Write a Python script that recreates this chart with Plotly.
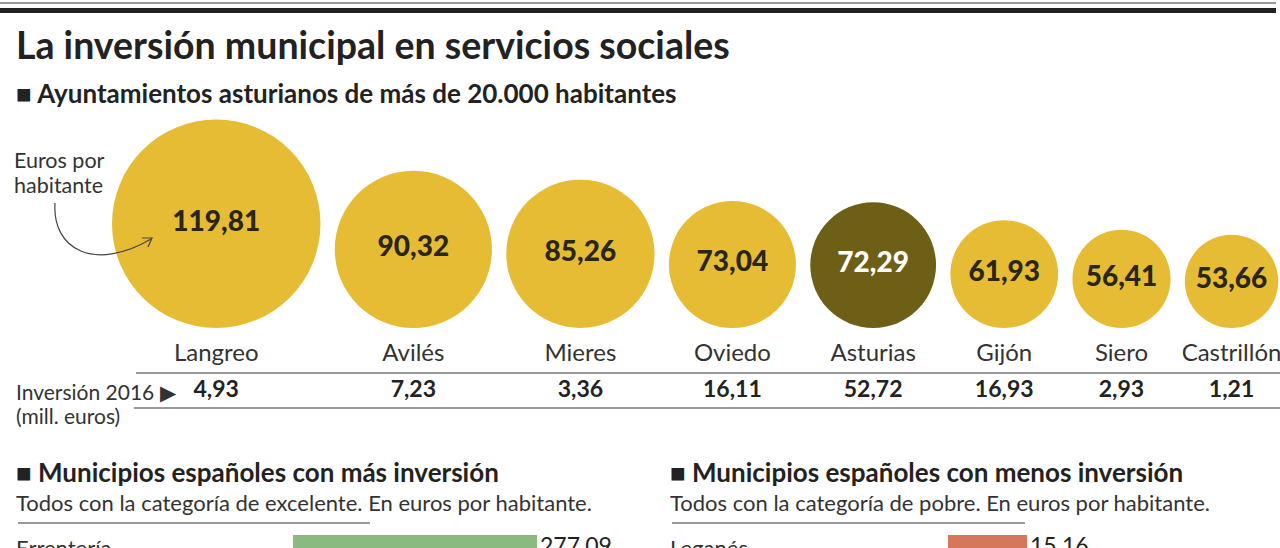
import plotly.graph_objects as go

# ---------------- data ----------------
municipios = ["Langreo", "Avilés", "Mieres", "Oviedo", "Asturias", "Gijón", "Siero", "Castrillón"]
euros_hab = [119.81, 90.32, 85.26, 73.04, 72.29, 61.93, 56.41, 53.66]
inversion_2016 = [4.93, 7.23, 3.36, 16.11, 52.72, 16.93, 2.93, 1.21]

mas_cat = ["Errentería"]
mas_val = [277.09]
menos_cat = ["Leganés"]
menos_val = [15.16]

# ---------------- style ----------------
W, H = 1280, 548
COND = "Lato, Roboto, sans-serif"
NUM = "Lato, Roboto, sans-serif"
YEL = "#E6BC35"
OLIVE = "#6D6016"
DARK = "#222222"
TXT = "#333333"


def es(v):
    return f"{v:.2f}".replace(".", ",")


# bubble geometry: radius proportional to value, packed left to right
px_per_unit = 0.87
gap = 14.3
x_left = 112
bottom = 328
xs, ys, sizes = [], [], []
cur = x_left
for v in euros_hab:
    r = v * px_per_unit
    xs.append(cur + r)
    ys.append(bottom - r)
    sizes.append(2 * r)
    cur += 2 * r + gap

colors = [OLIVE if m == "Asturias" else YEL for m in municipios]
txtcolors = ["white" if m == "Asturias" else "#2a2614" for m in municipios]

fig = go.Figure()

fig.add_trace(go.Scatter(
    x=xs, y=ys, mode="markers+text",
    marker=dict(size=sizes, color=colors, line=dict(width=0), opacity=1),
    text=[es(v) for v in euros_hab], textposition="middle center",
    textfont=dict(family=NUM, size=28, color=txtcolors, weight=900),
    cliponaxis=False, hoverinfo="skip", showlegend=False,
    xaxis="x", yaxis="y",
))

# names row
fig.add_trace(go.Scatter(
    x=xs, y=[355] * len(xs), mode="text", text=municipios,
    textfont=dict(family=COND, size=24, color=TXT),
    cliponaxis=False, hoverinfo="skip", showlegend=False,
))
# inversion row
fig.add_trace(go.Scatter(
    x=xs, y=[391] * len(xs), mode="text", text=[es(v) for v in inversion_2016],
    textfont=dict(family=COND, size=23, color=DARK, weight="bold"),
    cliponaxis=False, hoverinfo="skip", showlegend=False,
))

# bottom bars
fig.add_trace(go.Bar(
    y=mas_cat, x=mas_val, orientation="h", marker=dict(color="#8BBA80", line=dict(width=0)),
    width=0.8, text=[es(v) for v in mas_val], textposition="outside",
    textfont=dict(family=COND, size=23, color=DARK), constraintext="none",
    cliponaxis=False, xaxis="x2", yaxis="y2", showlegend=False, hoverinfo="skip",
))
fig.add_trace(go.Bar(
    y=menos_cat, x=menos_val, orientation="h", marker=dict(color="#D4775A", line=dict(width=0)),
    width=0.8, text=[es(v) for v in menos_val], textposition="outside",
    textfont=dict(family=COND, size=23, color=DARK), constraintext="none",
    cliponaxis=False, xaxis="x3", yaxis="y3", showlegend=False, hoverinfo="skip",
))

ann = []


def add_text(x, y, s, size, color=DARK, bold=False, family=COND, xanchor="left"):
    ann.append(dict(x=x, y=y, xref="x", yref="y", text=s, showarrow=False,
                    xanchor=xanchor, yanchor="middle",
                    font=dict(family=family, size=size, color=color,
                              weight="bold" if bold else "normal")))


add_text(14, 44, "La inversión municipal en servicios sociales", 37.5, DARK, True)
add_text(14, 93, "■ Ayuntamientos asturianos de más de 20.000 habitantes", 26, DARK, True)
add_text(12, 160, "Euros por", 21.5, TXT)
add_text(12, 185, "habitante", 21.5, TXT)
add_text(14, 391, "Inversión 2016 ▶", 21, TXT)
add_text(14, 415, "(mill. euros)", 21, TXT)

add_text(14, 472, "■ Municipios españoles con más inversión", 26, DARK, True)
add_text(14, 502, "Todos con la categoría de excelente. En euros por habitante.", 22, TXT)
add_text(668, 472, "■ Municipios españoles con menos inversión", 26, DARK, True)
add_text(668, 502, "Todos con la categoría de pobre. En euros por habitante.", 22, TXT)
for c in mas_cat:
    add_text(14, 547, c, 22, TXT)
for c in menos_cat:
    add_text(668, 547, c, 22, TXT)

shapes = [
    dict(type="line", xref="x", yref="y", x0=0, x1=1276, y0=3, y1=3, line=dict(color="#9a9a9a", width=2)),
    dict(type="line", xref="x", yref="y", x0=0, x1=1276, y0=10.5, y1=10.5, line=dict(color="#222222", width=5)),
    dict(type="line", xref="x", yref="y", x0=136, x1=1280, y0=373, y1=373, line=dict(color="#777777", width=1.5)),
    dict(type="line", xref="x", yref="y", x0=134, x1=1280, y0=408, y1=408, line=dict(color="#777777", width=1.5)),
    dict(type="line", xref="x", yref="y", x0=18, x1=370, y0=523, y1=523, line=dict(color="#777777", width=1.5)),
    dict(type="line", xref="x", yref="y", x0=672, x1=1025, y0=523, y1=523, line=dict(color="#777777", width=1.5)),
    # curved pointer
    dict(type="path", xref="x", yref="y", path="M 55 203 C 52 250, 95 272, 151 239",
         line=dict(color="#444444", width=1.2)),
    dict(type="path", xref="x", yref="y", path="M 142 238 L 152 238 L 148 247",
         line=dict(color="#444444", width=1.2)),
]

fig.update_layout(
    width=W, height=H, margin=dict(l=0, r=0, t=0, b=0),
    paper_bgcolor="white", plot_bgcolor="rgba(0,0,0,0)",
    xaxis=dict(domain=[0, 1], range=[0, W], visible=False, fixedrange=True),
    yaxis=dict(domain=[0, 1], range=[H, 0], visible=False, fixedrange=True),
    xaxis2=dict(domain=[293 / W, 537 / W], range=[0, max(mas_val)], visible=False, anchor="y2"),
    yaxis2=dict(domain=[0, 13 / H], range=[-0.12, 0.4], visible=False, anchor="x2"),
    xaxis3=dict(domain=[948 / W, 1027 / W], range=[0, max(menos_val)], visible=False, anchor="y3"),
    yaxis3=dict(domain=[0, 13 / H], range=[-0.12, 0.4], visible=False, anchor="x3"),
    annotations=ann, shapes=shapes,
)

fig.write_html("out.html", config={"displayModeBar": False},
               post_script="document.body.style.margin='0';document.body.style.padding='0';")
